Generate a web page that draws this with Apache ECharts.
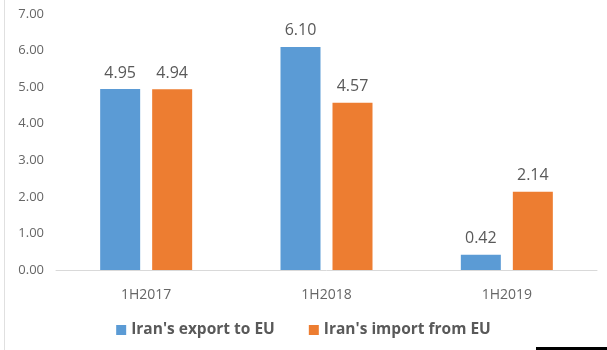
<!DOCTYPE html>
<html>
<head>
<meta charset="utf-8">
<script src="https://cdn.jsdelivr.net/npm/echarts@6/dist/echarts.min.js"></script>
<style>
  html, body { margin: 0; padding: 0; background: #fff; }
  #chart { width: 607px; height: 350px; }
</style>
</head>
<body>
<div id="chart"></div>
<script>
const categories = ['1H2017', '1H2018', '1H2019']
const exportToEU = [4.95, 6.10, 0.42]
const importFromEU = [4.94, 4.57, 2.14]
const seriesNames = ["Iran's export to EU", "Iran's import from EU"]

const chart = echarts.init(document.getElementById('chart'), null, { renderer: 'canvas' })

const labelStyle = {
  show: true,
  position: 'top',
  distance: 8,
  color: '#595959',
  fontSize: 16,
  fontFamily: 'Open Sans',
  formatter: p => p.value.toFixed(2),
}

chart.setOption({
  backgroundColor: '#fff',
  animation: false,
  grid: { left: 56, right: 10, top: 14, bottom: 80 },
  legend: {
    bottom: 7,
    left: 'center',
    itemWidth: 10,
    itemHeight: 10,
    itemGap: 34,
    icon: 'rect',
    textStyle: { color: '#595959', fontSize: 15.5, fontWeight: 'bold', fontFamily: 'Open Sans' },
    data: seriesNames,
  },
  xAxis: {
    type: 'category',
    data: categories,
    axisLine: { lineStyle: { color: '#d9d9d9' } },
    axisTick: { show: false },
    axisLabel: { color: '#666', fontSize: 14, fontFamily: 'Open Sans', margin: 18 },
  },
  yAxis: {
    type: 'value',
    min: 0,
    max: 7,
    interval: 1,
    splitLine: { show: false },
    axisLine: { show: false },
    axisTick: { show: false },
    axisLabel: { color: '#666', fontSize: 13, fontFamily: 'Open Sans', margin: 12, formatter: v => v.toFixed(2) },
  },
  graphic: [
    { type: 'rect', left: 4, top: 0, shape: { width: 1, height: 350 }, style: { fill: '#e0e0e0' } },
    { type: 'rect', left: 536, top: 347, shape: { width: 71, height: 3 }, style: { fill: '#000' } },
  ],
  series: [
    {
      name: seriesNames[0],
      type: 'bar',
      data: exportToEU,
      barWidth: 40,
      barGap: '30%',
      itemStyle: { color: '#5b9bd5' },
      label: labelStyle,
    },
    {
      name: seriesNames[1],
      type: 'bar',
      data: importFromEU,
      barWidth: 40,
      itemStyle: { color: '#ed7d31' },
      label: labelStyle,
    },
  ],
})
</script>
</body>
</html>
